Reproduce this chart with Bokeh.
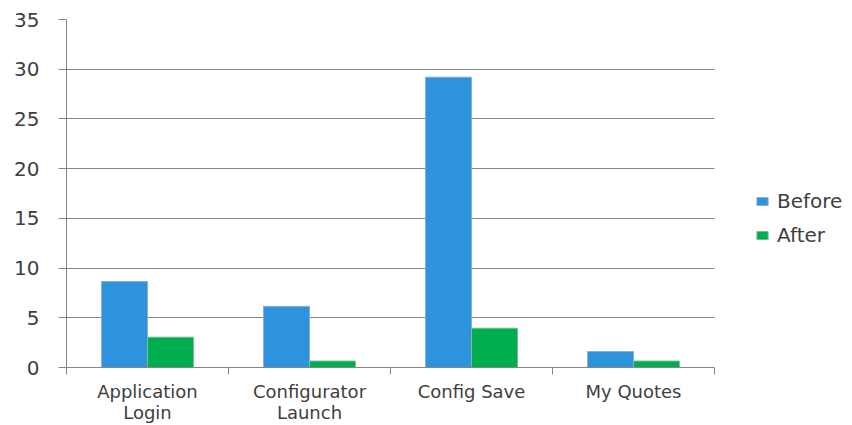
import numpy as np
from bokeh.plotting import figure
from bokeh.models import (ColumnDataSource, Range1d, FixedTicker, CustomJSTickFormatter,
                          Legend, LegendItem)
from bokeh.transform import dodge
from bokeh.embed import file_html
from bokeh.resources import INLINE

categories = ["Application\nLogin", "Configurator\nLaunch", "Config Save", "My Quotes"]
before = [8.65, 6.15, 29.2, 1.6]
after = [3.05, 0.65, 3.95, 0.65]
y_ticks = [0, 5, 10, 15, 20, 25, 30, 35]

n = len(categories)
centers = list(np.arange(n) + 0.5)
boundaries = list(np.arange(n + 1).astype(float))

src = ColumnDataSource(dict(x=centers, before=before, after=after))

FONT = "DejaVu Sans"
TXT = "#404040"
GRID = "#868686"

W, H = 852, 425
left, right_axis_end = 66, 714
x_end = n * (W - left) / (right_axis_end - left)

p = figure(width=W, height=H, output_backend="svg", toolbar_location=None,
           x_range=Range1d(0, x_end), y_range=Range1d(0, 35),
           min_border_left=left, min_border_right=0, min_border_top=19, min_border_bottom=58)
p.outline_line_color = None

bw = 0.284
r1 = p.vbar(x=dodge("x", -bw / 2, range=p.x_range), top="before", width=bw, source=src,
            fill_color="#2E93DD", line_color="#8AAFCF", line_width=1)
r2 = p.vbar(x=dodge("x", bw / 2, range=p.x_range), top="after", width=bw, source=src,
            fill_color="#00AD4F", line_color="#7FB89A", line_width=1)

# x axis
xa = p.xaxis[0]
xa.bounds = (0, n)
xa.ticker = FixedTicker(ticks=centers, minor_ticks=boundaries)
xa.formatter = CustomJSTickFormatter(args=dict(labels=categories),
                                     code="return labels[Math.floor(tick)];")
xa.major_tick_out = 0
xa.major_tick_in = 0
xa.minor_tick_out = 7
xa.minor_tick_in = 0
xa.minor_tick_line_color = GRID
xa.axis_line_color = GRID
xa.major_label_text_font = FONT
xa.major_label_text_font_size = "18px"
xa.major_label_text_color = TXT
xa.major_label_text_line_height = 1.0
xa.major_label_standoff = 6
p.xgrid.grid_line_color = None

# y axis
ya = p.yaxis[0]
ya.ticker = FixedTicker(ticks=y_ticks)
ya.major_tick_out = 8
ya.major_tick_in = 0
ya.minor_tick_line_color = None
ya.major_tick_line_color = GRID
ya.axis_line_color = GRID
ya.major_label_text_font = FONT
ya.major_label_text_font_size = "20px"
ya.major_label_text_color = TXT
ya.major_label_standoff = 19

g = p.ygrid[0]
if "cross_bounds" in g.properties():
    g.cross_bounds = (0, n)
    g.grid_line_color = GRID
    g.grid_line_width = 1
else:
    g.grid_line_color = None
    p.segment(x0=0, x1=n, y0=y_ticks, y1=y_ticks, line_color=GRID, line_width=1, level="underlay")

legend = Legend(items=[LegendItem(label="Before", renderers=[r1]),
                       LegendItem(label="After", renderers=[r2])],
                location=(689, 120), orientation="vertical",
                glyph_width=14, glyph_height=10, label_standoff=8,
                padding=0, margin=0, spacing=10, label_height=20,
                border_line_color=None, background_fill_alpha=0,
                label_text_font=FONT, label_text_font_size="20px", label_text_color=TXT)
p.add_layout(legend, "center")

open("out.html", "w").write(file_html(p, INLINE))
